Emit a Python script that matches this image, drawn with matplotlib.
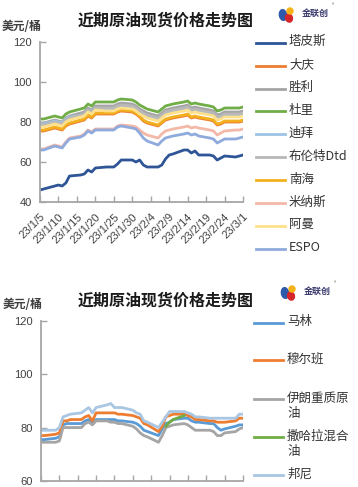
import matplotlib
matplotlib.use('Agg')
import matplotlib.pyplot as plt
from matplotlib.lines import Line2D
from matplotlib.patches import Ellipse
import numpy as np
import pandas as pd

plt.rcParams['font.family'] = ['Noto Sans CJK SC', 'DejaVu Sans']

# 交易日
dates = ['2023-01-05', '2023-01-06', '2023-01-09', '2023-01-10', '2023-01-11', '2023-01-12',
         '2023-01-13', '2023-01-16', '2023-01-17', '2023-01-18', '2023-01-19', '2023-01-20',
         '2023-01-23', '2023-01-24', '2023-01-25', '2023-01-26', '2023-01-27', '2023-01-30',
         '2023-01-31', '2023-02-01', '2023-02-02', '2023-02-03', '2023-02-06', '2023-02-07',
         '2023-02-08', '2023-02-09', '2023-02-10', '2023-02-13', '2023-02-14', '2023-02-15',
         '2023-02-16', '2023-02-17', '2023-02-20', '2023-02-21', '2023-02-22', '2023-02-23',
         '2023-02-24', '2023-02-27', '2023-02-28', '2023-03-01']

tick_dates = ['2023-01-05', '2023-01-10', '2023-01-15', '2023-01-20', '2023-01-25', '2023-01-30',
              '2023-02-04', '2023-02-09', '2023-02-14', '2023-02-19', '2023-02-24', '2023-03-01']
tick_labels = ['23/1/5', '23/1/10', '23/1/15', '23/1/20', '23/1/25', '23/1/30',
               '23/2/4', '23/2/9', '23/2/14', '23/2/19', '23/2/24', '23/3/1']

# 上图：亚太及中东原油
tapis = [46, 46.5, 48, 48.5, 48, 49.5, 53, 53.5, 54, 56, 55, 57, 57.5, 57.5, 57.5, 59, 61, 61, 60, 61,
         58.5, 57.5, 57.5, 58.5, 61.5, 63.5, 64, 66, 66, 64.5, 65.5, 63.5, 63.5, 63, 61, 62, 63, 62.5, 63, 63.5]
daqing = [75.5, 75.5, 77, 76.5, 76, 78, 79, 80.5, 81, 83, 82, 84, 84, 84, 84, 85, 85.5, 85, 84, 82.5,
          80.5, 79.5, 78, 79.5, 81, 81.5, 82, 83, 83.5, 82, 82.5, 82, 81, 80.5, 78.5, 79, 80, 80, 80, 80.5]
shengli = [79.5, 79.5, 81, 80.5, 80, 82, 83, 84.5, 85, 87, 86, 88, 88, 88, 88, 89, 89.5, 89, 88, 86.5,
           85.5, 84.5, 83, 84.5, 86, 86.5, 87, 88, 88.5, 87, 87.5, 87, 86, 85.5, 83.5, 84, 85, 85, 85, 85.5]
duri = [81.5, 81.5, 83, 82.5, 82, 84, 85, 86.5, 87, 89, 88, 90, 90, 90, 90, 91, 91.5, 91, 90, 88.5,
        87.5, 86.5, 85, 86.5, 88, 88.5, 89, 90, 90.5, 89, 89.5, 89, 88, 87.5, 85.5, 86, 87, 87, 87, 87.5]
dubai = [79, 79, 80.5, 80, 79.5, 81.5, 82.5, 83.5, 84, 86, 85, 87, 86.5, 86.5, 86.5, 87.5, 88, 87.5, 86.5, 85,
         84, 83, 81.5, 83, 84.5, 85, 85.5, 86.5, 87, 85.5, 86, 85.5, 84.5, 84, 82, 82.5, 83.5, 83.5, 83.5, 84]
brent = [78.5, 78.5, 80, 79.5, 79, 81, 82, 83.5, 84, 86, 85, 87, 87, 87, 87, 88, 88.5, 88, 87, 85.5,
         84.5, 83.5, 82, 83.5, 85, 85.5, 86, 87, 87.5, 86, 86.5, 86, 85, 84.5, 82.5, 83, 84, 84, 84, 84.5]
nanhai = [76, 76, 77.5, 77, 76.5, 78.5, 79.5, 81, 81.5, 83.5, 82.5, 84.5, 84.5, 84.5, 84.5, 85.5, 86, 85.5, 84.5, 83,
          81, 80, 78.5, 80, 81.5, 82, 82.5, 83.5, 84, 82.5, 83, 82.5, 81.5, 81, 79, 79.5, 80.5, 80.5, 80.5, 81]
minas = [66.5, 66.5, 68.5, 68, 67.5, 70, 72, 73, 74, 76, 75, 76.5, 76.5, 76.5, 76.5, 78, 78.5, 78, 77.5, 76,
         74.5, 73.5, 72, 74, 75.5, 76, 76.5, 77.5, 78, 77, 77.5, 77, 76, 75.5, 73.5, 74.5, 75.5, 76, 76, 76.5]
oman = [77.5, 77.5, 79, 78.5, 78, 80, 81, 82.5, 83, 85, 84, 86, 85.5, 85.5, 85.5, 86.5, 87, 86.5, 85.5, 84,
        83, 82, 80.5, 82, 83.5, 84, 84.5, 85.5, 86, 84.5, 85, 84.5, 83.5, 83, 81, 81.5, 82.5, 82.5, 82.5, 83]
espo = [66, 66, 68, 67.5, 67, 69.5, 71.5, 72.5, 73.5, 75.5, 74.5, 76, 76, 76, 76, 77.5, 78, 77, 76.5, 74.5,
        72, 70.5, 68.5, 70.5, 72, 72.5, 73, 74, 74.5, 73.5, 74, 73, 72, 71.5, 69.5, 70.5, 71.5, 71.5, 72, 72.5]

top_names = ['塔皮斯', '大庆', '胜利', '杜里', '迪拜', '布伦特Dtd', '南海', '米纳斯', '阿曼', 'ESPO']
top_series = [tapis, daqing, shengli, duri, dubai, brent, nanhai, minas, oman, espo]
top_colors = ['#2F5597', '#ED7D31', '#A5A5A5', '#70AD47', '#9DC3E6',
              '#B8B8B8', '#F2B01E', '#F4B8A8', '#FFE08A', '#8FAADC']

# 下图：中东及非洲原油
marine = [75.5, 75.5, 76, 76.5, 81, 81.5, 81.5, 81.5, 82.5, 83, 81.5, 83, 83, 83, 83, 82.5, 82.5, 82, 81.5, 80.5,
          79, 78.5, 77, 79.5, 81.5, 82, 83, 83.5, 83.5, 82.5, 82, 82, 81.5, 81.5, 80, 79, 79.5, 80.5, 81, 81]
murban = [77, 77, 77.5, 78, 82.5, 82.5, 83, 83, 84, 84.5, 82.5, 85.5, 85.5, 85.5, 85.5, 85, 85, 84.5, 84, 83.5,
          81.5, 81, 78.5, 80.5, 84, 84.5, 85, 85, 84.5, 84, 83, 83, 82.5, 82.5, 82, 82, 82, 82.5, 83.5, 83.5]
iran_heavy = [74.5, 74.5, 74.5, 75, 80, 80, 80, 80, 81.5, 82, 81, 82.5, 82.5, 82, 82, 81.5, 81.5, 80.5, 79.5, 78,
              77, 76.5, 74.5, 77, 80, 80.5, 81, 81.5, 81, 80, 79, 79, 79, 78.5, 77, 77, 78, 78.5, 79.5, 80]
sahara_dates = ['2023-02-08', '2023-02-09', '2023-02-10', '2023-02-13']
sahara = [80.5, 82, 83, 84.5]
bonny = [79, 79, 79, 80, 84, 84.5, 85, 85.5, 86.5, 87.5, 85.5, 87.5, 88.5, 89, 87.5, 87.5, 87.5, 86.5, 85.5, 85,
         82.5, 82, 80, 82, 84, 86, 86, 86, 85.5, 85, 84, 84, 83.5, 83.5, 83.5, 83.5, 83.5, 83.5, 85, 85]

bottom_names = ['马林', '穆尔班', '伊朗重质原\n油', '撒哈拉混合\n油', '邦尼']
bottom_colors = ['#5B9BD5', '#ED7D31', '#A5A5A5', '#70AD47', '#A9C6E2']

W, H = 358, 487


def fx(px):
    return px / W


def fy(py):
    return 1 - py / H


def style_axes(ax, ylim, yticks, show_xlabels):
    for s in ['top', 'right']:
        ax.spines[s].set_visible(False)
    for s in ['left', 'bottom']:
        ax.spines[s].set_color('#A6A6A6')
        ax.spines[s].set_linewidth(1.3)
    ax.set_facecolor('none')
    ax.set_ylim(*ylim)
    ax.set_yticks(yticks)
    ax.set_xlim(pd.Timestamp(dates[0]), pd.Timestamp(dates[-1]))
    ax.set_xticks(pd.to_datetime(tick_dates))
    ax.tick_params(direction='in', length=4, width=1, color='#A6A6A6')
    ax.tick_params(axis='y', pad=6, labelsize=8, labelcolor='#404040')
    for lab in ax.get_yticklabels():
        lab.set_family('Liberation Sans')
    if show_xlabels:
        ax.set_xticklabels(tick_labels, rotation=45, ha='right', rotation_mode='anchor',
                           fontsize=8, color='#404040', family='Liberation Sans')
        ax.tick_params(axis='x', pad=7)
    else:
        ax.set_xticklabels([])


def draw_logo(x, y):
    # 金联创标志
    fig.add_artist(Ellipse((fx(x), fy(y)), 7 / W, 11 / H, angle=30, color='#2E5AAC',
                           transform=fig.transFigure))
    fig.add_artist(Ellipse((fx(x + 6), fy(y + 3)), 7 / W, 8 / H, angle=-20, color='#D7262B',
                           transform=fig.transFigure))
    fig.add_artist(Ellipse((fx(x + 7), fy(y - 4)), 6 / W, 6 / H, color='#F5B317',
                           transform=fig.transFigure))
    fig.text(fx(x + 19), fy(y - 2), '金联创', fontsize=6.5, color='#3B3B6E',
             ha='left', va='center', fontweight='bold')
    fig.text(fx(x + 49), fy(y - 9), '®', fontsize=3.5, color='#555555', ha='left', va='center')


def draw_legend(names, colors, ys, x0=256, x1=285, tx=289):
    for name, c, py in zip(names, colors, ys):
        fig.add_artist(Line2D([fx(x0), fx(x1)], [fy(py), fy(py)], color=c, lw=2.0,
                              transform=fig.transFigure))
        fig.text(fx(tx), fy(py - 7.5), name, fontsize=9, color='#333333',
                 ha='left', va='top', linespacing=1.3)


fig = plt.figure(figsize=(W / 100, H / 100), dpi=100)
fig.patch.set_facecolor('white')

x_dates = pd.to_datetime(dates)

# 上图
ax1 = fig.add_axes([fx(40), fy(202), fx(203), 160 / H])
for vals, c in zip(top_series, top_colors):
    ax1.plot(x_dates, vals, color=c, lw=2.0, solid_joinstyle='round')
style_axes(ax1, (40, 120), [40, 60, 80, 100, 120], True)

fig.text(fx(166), fy(21), '近期原油现货价格走势图', fontsize=11.5, fontweight='bold',
         color='#1A1A1A', ha='center', va='center')
fig.text(fx(2), fy(26), '美元/桶', fontsize=8.5, color='#404040', ha='left', va='center',
         fontweight='bold')
draw_logo(283, 15)
draw_legend(top_names, top_colors, [42.7 + i * 22.9 for i in range(len(top_names))])

# 下图
ax2 = fig.add_axes([fx(41), fy(481), fx(202), 160.3 / H])
ax2.plot(x_dates, marine, color=bottom_colors[0], lw=2.0)
ax2.plot(x_dates, murban, color=bottom_colors[1], lw=2.0)
ax2.plot(x_dates, iran_heavy, color=bottom_colors[2], lw=2.0)
ax2.plot(pd.to_datetime(sahara_dates), sahara, color=bottom_colors[3], lw=2.0)
ax2.plot(x_dates, bonny, color=bottom_colors[4], lw=2.0)
style_axes(ax2, (60, 120), [60, 80, 100, 120], False)

fig.text(fx(166), fy(301), '近期原油现货价格走势图', fontsize=11.5, fontweight='bold',
         color='#1A1A1A', ha='center', va='center')
fig.text(fx(3), fy(305), '美元/桶', fontsize=8.5, color='#404040', ha='left', va='center',
         fontweight='bold')
draw_logo(285, 293)
draw_legend(bottom_names, bottom_colors, [322.7, 360, 399, 437, 475], x0=254, x1=283, tx=287)

fig.savefig('out.png', dpi=100)
